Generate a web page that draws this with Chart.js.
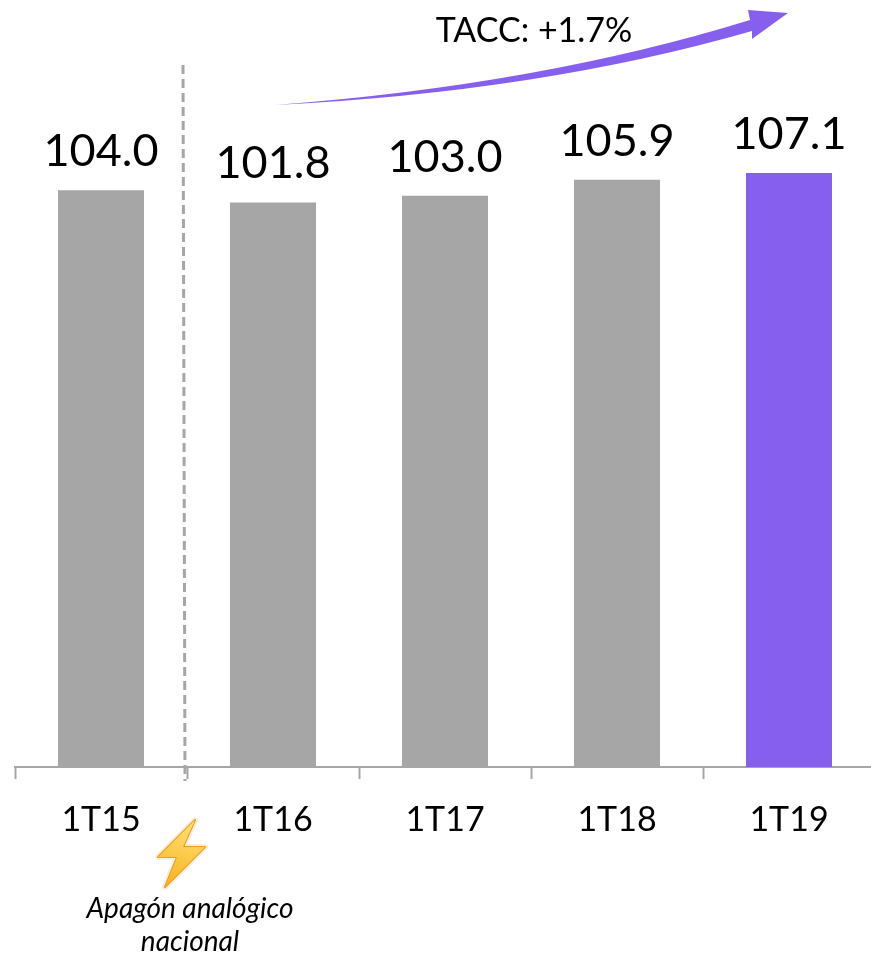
<!DOCTYPE html>
<html>
<head>
<meta charset="utf-8">
<title>TACC</title>
<script src="https://cdn.jsdelivr.net/npm/chart.js@4/dist/chart.umd.min.js"></script>
<style>
html, body { margin: 0; padding: 0; background: #fff; overflow: hidden; }
canvas { display: block; }
</style>
</head>
<body>
<canvas id="myChart" width="880" height="955"></canvas>
<script>
'use strict';

let categories = ['1T15', '1T16', '1T17', '1T18', '1T19'];
let values = [104.0, 101.8, 103.0, 105.9, 107.1];
let barColors = ['#a6a6a6', '#a6a6a6', '#a6a6a6', '#a6a6a6', '#875fef'];
let growthLabel = 'TACC: +1.7%';
let noteLines = ['Apagón analógico', 'nacional'];

let fontName = 'Lato, "Open Sans", sans-serif';

// value labels on top of the bars
let valueLabels = {
  id: 'valueLabels',
  afterDatasetsDraw(chart) {
    let ctx = chart.ctx;
    let meta = chart.getDatasetMeta(0);
    ctx.save();
    ctx.fillStyle = '#000';
    ctx.textAlign = 'center';
    ctx.textBaseline = 'alphabetic';
    ctx.font = '45px ' + fontName;
    meta.data.forEach((bar, i) => {
      ctx.fillText(values[i].toFixed(1), bar.x, bar.y - 24);
    });
    ctx.restore();
  }
};

// dashed divider, growth arrow, lightning and note
let extras = {
  id: 'extras',
  afterDraw(chart) {
    let ctx = chart.ctx;
    ctx.save();

    ctx.strokeStyle = '#a6a6a6';
    ctx.lineWidth = 3;
    ctx.setLineDash([9, 5]);
    ctx.beginPath();
    ctx.moveTo(183, 65);
    ctx.lineTo(185, 781);
    ctx.stroke();
    ctx.setLineDash([]);

    ctx.fillStyle = '#875fef';
    ctx.beginPath();
    ctx.moveTo(275, 105);
    ctx.quadraticCurveTo(540, 85, 750, 20);
    ctx.lineTo(748, 10);
    ctx.lineTo(788, 13);
    ctx.lineTo(752, 39);
    ctx.lineTo(752, 31);
    ctx.quadraticCurveTo(540, 92, 275, 105);
    ctx.fill();

    ctx.fillStyle = '#000';
    ctx.textAlign = 'center';
    ctx.font = '34px ' + fontName;
    ctx.fillText(growthLabel, 534, 42);

    let bolt = [[195, 820], [158, 857], [177, 857], [165, 887], [205, 847], [183, 847]];
    let grad = ctx.createLinearGradient(190, 820, 170, 887);
    grad.addColorStop(0, '#ffe27a');
    grad.addColorStop(1, '#f9b21d');
    ctx.beginPath();
    bolt.forEach((p, i) => i ? ctx.lineTo(p[0], p[1]) : ctx.moveTo(p[0], p[1]));
    ctx.closePath();
    ctx.lineJoin = 'round';
    ctx.strokeStyle = '#fbeedd';
    ctx.lineWidth = 6;
    ctx.stroke();
    ctx.strokeStyle = '#ee9a1c';
    ctx.lineWidth = 2;
    ctx.stroke();
    ctx.fillStyle = grad;
    ctx.fill();

    ctx.fillStyle = '#000';
    ctx.font = 'italic 28px ' + fontName;
    ctx.fillText(noteLines[0], 190, 918);
    ctx.fillText(noteLines[1], 190, 951);
    ctx.restore();
  }
};

let chart = new Chart(document.getElementById('myChart').getContext('2d'), {
  type: 'bar',
  data: {
    labels: categories,
    datasets: [{
      data: values,
      backgroundColor: barColors,
      categoryPercentage: 1,
      barPercentage: 0.5
    }]
  },
  options: {
    responsive: false,
    animation: false,
    events: [],
    layout: { padding: { left: 15, right: 5, top: 0, bottom: 0 } },
    plugins: { legend: { display: false }, tooltip: { enabled: false } },
    scales: {
      x: {
        afterFit(scale) { scale.height = 188; },
        grid: { drawOnChartArea: false, drawTicks: true, tickLength: 12, color: '#a6a6a6', tickWidth: 2 },
        border: { color: '#a6a6a6', width: 2 },
        ticks: { color: '#000', padding: 21, maxRotation: 0, autoSkip: false, font: { family: fontName, size: 34 } }
      },
      y: { display: false, min: 0, max: 138.3 }
    }
  },
  plugins: [valueLabels, extras]
});
</script>
</body>
</html>
